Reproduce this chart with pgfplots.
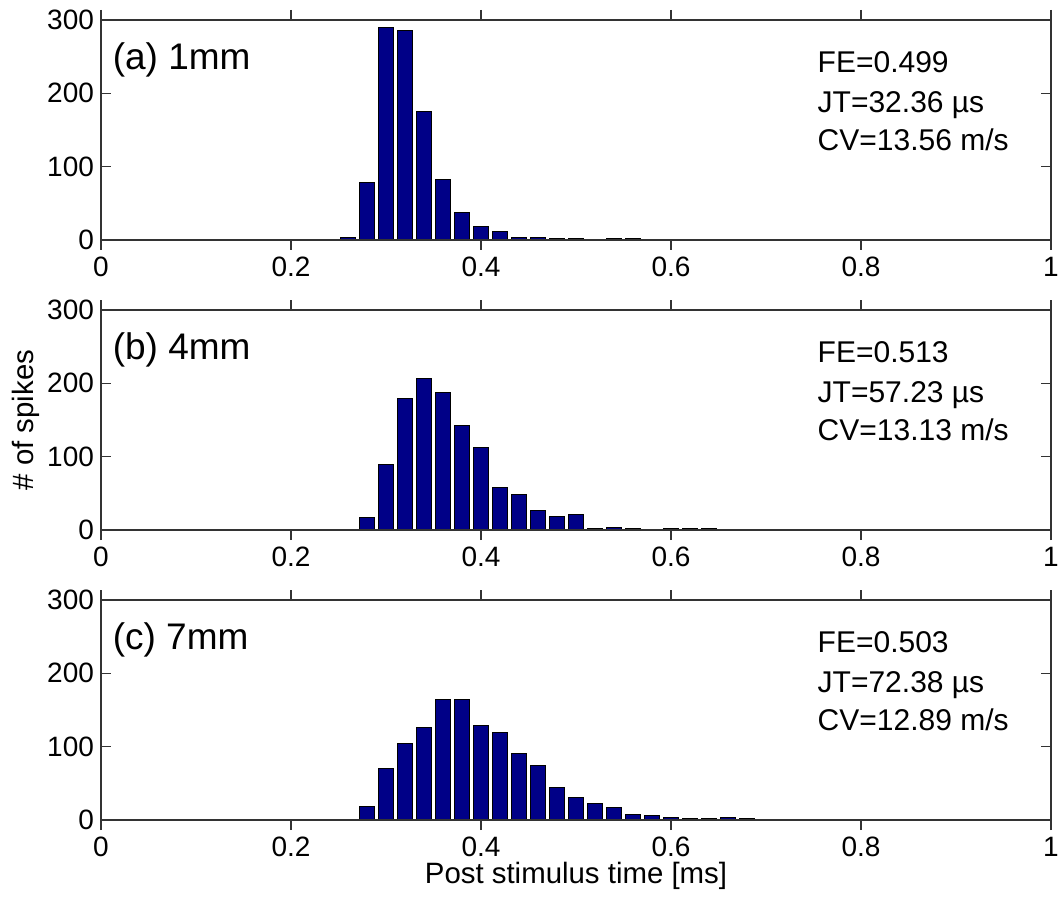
\documentclass[border=0pt]{standalone}
\usepackage{fontspec}
\setmainfont{Liberation Sans}
\usepackage{pgfplots}
\pgfplotsset{compat=1.18}
\definecolor{barblue}{RGB}{0,0,135}
\pgfplotsset{
  panel/.style={
    scale only axis,
    width=475pt, height=110pt,
    anchor=south west,
    xmin=0, xmax=1, ymin=0, ymax=300,
    xtick={0,0.2,0.4,0.6,0.8,1},
    xticklabels={0,0.2,0.4,0.6,0.8,1},
    ytick={0,100,200,300},
    xtick pos=both, ytick pos=both,
    tick align=inside,
    major tick length=5pt,
    axis line style={black!80, line width=0.8pt},
    every tick/.style={black!80, line width=0.8pt},
    /pgf/number format/assume math mode=true,
    tick label style={font=\fontsize{14pt}{16pt}\selectfont},
    xticklabel style={yshift=0pt},
    ybar, bar width=0.016,
    axis on top,
  },
  bars/.style={fill=barblue, draw=black, line width=0.5pt},
}
\tikzset{
  lbl/.style={anchor=base west, inner sep=0pt, font=\fontsize{18.5pt}{20pt}\selectfont},
  ann/.style={anchor=base west, inner sep=0pt, font=\fontsize{15pt}{17pt}\selectfont},
}
\begin{document}
\begin{tikzpicture}
\path[use as bounding box] (0,0) rectangle (531.5pt,450pt);
% Panel (a)
\begin{axis}[panel, at={(50.5pt,330pt)}]
\addplot[bars] coordinates {
(0.26,3) (0.28,79) (0.30,290) (0.32,286) (0.34,175) (0.36,83) (0.38,38)
(0.40,18) (0.42,12) (0.44,4) (0.46,4) (0.48,2) (0.50,2) (0.54,2) (0.56,2)};
\node[lbl] at (axis cs:0.012,233) {(a) 1mm};
\node[ann] at (axis cs:0.754,228) {FE=0.499};
\node[ann] at (axis cs:0.754,174) {JT=32.36 µs};
\node[ann] at (axis cs:0.754,122) {CV=13.56 m/s};
\end{axis}
% Panel (b)
\begin{axis}[panel, at={(50.5pt,185pt)}]
\addplot[bars] coordinates {
(0.28,17) (0.30,89) (0.32,179) (0.34,206) (0.36,187) (0.38,142) (0.40,112)
(0.42,58) (0.44,48) (0.46,27) (0.48,19) (0.50,21) (0.52,2) (0.54,4)
(0.56,2) (0.60,2) (0.62,2) (0.64,2)};
\node[lbl] at (axis cs:0.012,233) {(b) 4mm};
\node[ann] at (axis cs:0.754,228) {FE=0.513};
\node[ann] at (axis cs:0.754,174) {JT=57.23 µs};
\node[ann] at (axis cs:0.754,122) {CV=13.13 m/s};
\end{axis}
% Panel (c)
\begin{axis}[panel, at={(50.5pt,40pt)}]
\addplot[bars] coordinates {
(0.28,18) (0.30,70) (0.32,105) (0.34,126) (0.36,164) (0.38,164) (0.40,129)
(0.42,120) (0.44,91) (0.46,75) (0.48,45) (0.50,31) (0.52,22) (0.54,17)
(0.56,8) (0.58,6) (0.60,4) (0.62,1.5) (0.64,1.5) (0.66,4) (0.68,2)};
\node[lbl] at (axis cs:0.012,233) {(c) 7mm};
\node[ann] at (axis cs:0.754,228) {FE=0.503};
\node[ann] at (axis cs:0.754,174) {JT=72.38 µs};
\node[ann] at (axis cs:0.754,122) {CV=12.89 m/s};
\end{axis}
\node[rotate=90, anchor=center, font=\fontsize{14.7pt}{16pt}\selectfont] at (13pt,240pt) {\# of spikes};
\node[anchor=base, inner sep=0pt, font=\fontsize{14.7pt}{16pt}\selectfont] at (288pt,8.2pt) {Post stimulus time [ms]};
\end{tikzpicture}
\end{document}
